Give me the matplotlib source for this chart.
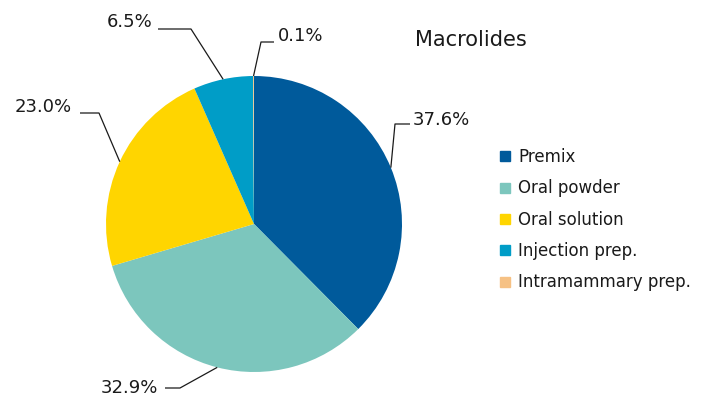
import numpy as np
import matplotlib.pyplot as plt
from matplotlib.lines import Line2D

categories = ['Premix', 'Oral powder', 'Oral solution', 'Injection prep.', 'Intramammary prep.']
shares = [37.6, 32.9, 23.0, 6.5, 0.1]
colors = ['#005A9B', '#7CC6BD', '#FFD500', '#009DC7', '#F6C184']
title = 'Macrolides'

W, H = 709, 398


def py(y):
    # pixel rows run downward, axes y runs upward
    return H - y


# leader layout: (elbow x, elbow y, end x, text x, text y, align)
leaders = [
    (395, 124, 410, 413, 120, 'left'),
    (180, 388, 165, 158, 388, 'right'),
    (99, 113, 80, 72, 107, 'right'),
    (191, 29, 158, 152, 22, 'right'),
    (261, 42, 274, 278, 36, 'left'),
]

fig = plt.figure(figsize=(W / 100, H / 100), dpi=100)
ax = fig.add_axes([0, 0, 1, 1])

cx, cy, r = 254, 224, 148
wedges, _ = ax.pie(shares, colors=colors, startangle=90, counterclock=False,
                   center=(cx, py(cy)), radius=r,
                   wedgeprops=dict(linewidth=0))

for w, val, (ex, ey, tx, lx, ly, ha) in zip(wedges, shares, leaders):
    mid = np.radians((w.theta1 + w.theta2) / 2)
    sx = cx + r * np.cos(mid)
    sy = py(cy) + r * np.sin(mid)
    ax.plot([sx, ex, tx], [sy, py(ey), py(ey)], color='#1a1a1a', lw=0.9,
            solid_capstyle='butt')
    ax.text(lx, py(ly), f'{val:.1f}%', ha=ha, va='center', fontsize=13,
            color='#1a1a1a')

ax.text(415, py(40), title, ha='left', va='center', fontsize=15, color='#1a1a1a')

handles = [Line2D([], [], marker='s', linestyle='none', markersize=6.5,
                  markerfacecolor=c, markeredgecolor=c) for c in colors]
leg = ax.legend(handles, categories, loc='upper left',
                bbox_to_anchor=(498 / W, 1 - 148 / H), bbox_transform=fig.transFigure,
                frameon=False, fontsize=12, labelspacing=0.80, handlelength=0.8,
                handletextpad=0.4, borderpad=0, borderaxespad=0)
for t in leg.get_texts():
    t.set_color('#1a1a1a')

ax.set_xlim(0, W)
ax.set_ylim(0, H)
ax.set_aspect('equal')
ax.axis('off')

fig.savefig('out.png', dpi=100)
